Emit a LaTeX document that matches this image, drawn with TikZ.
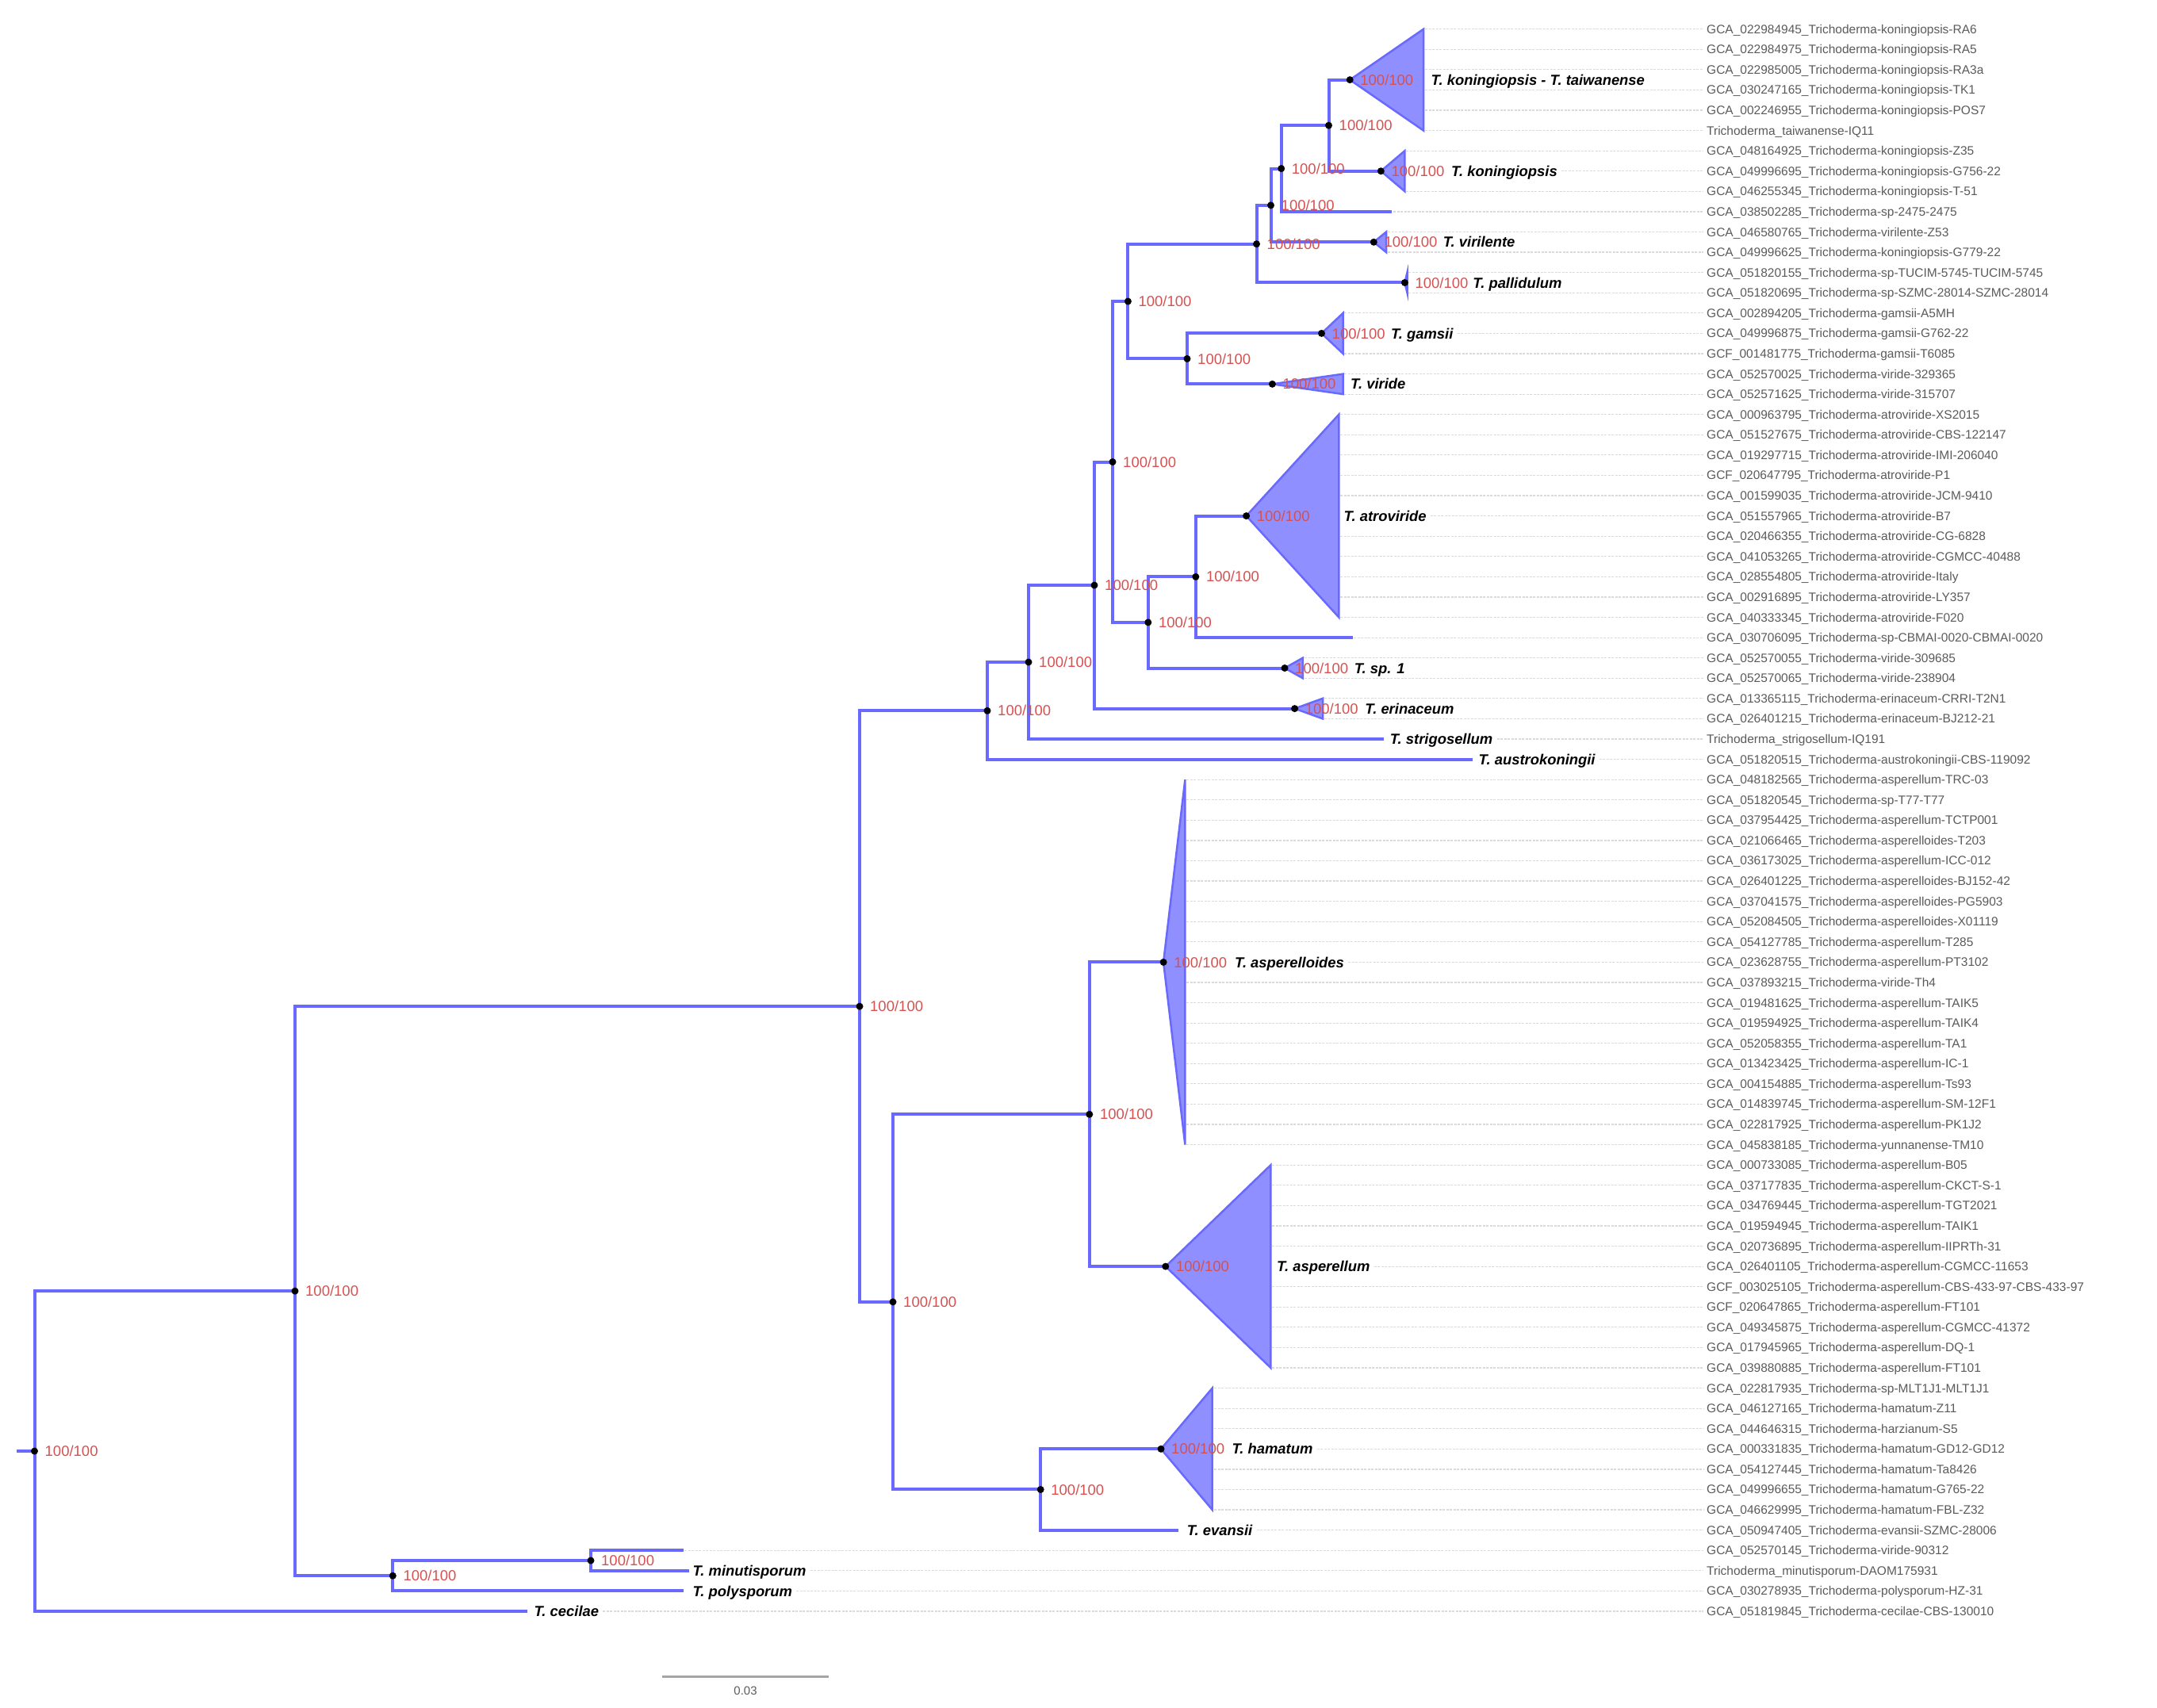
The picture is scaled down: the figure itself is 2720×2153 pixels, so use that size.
\documentclass[tikz,border=0pt]{standalone}
\usepackage{fontspec}
\setmainfont{Liberation Sans}
\definecolor{brc}{RGB}{105,105,255}
\definecolor{trif}{RGB}{143,143,255}
\definecolor{supc}{RGB}{214,80,80}
\definecolor{tipc}{RGB}{90,90,90}
\definecolor{leadc}{RGB}{218,218,218}
\definecolor{sclc}{RGB}{165,165,165}
\newcommand\treeelbow[3]{\draw[branch] (#2) -| (#1) |- (#3);}
\newcommand\cladetri[4]{\draw[tri] (#1) -- (#2,#3) -- (#2,#4) -- cycle;}
\newcommand\nodemark[1]{\node[dot] (d#1) at (#1) {}; \node[suplab] (s#1) at (#1) {100/100};}
\newcommand\leadrows[3]{\foreach \r in {#1,...,#2}{\draw[leader] (#3,{36.7+(\r-1)*25.58}) -- (r\r);}}
\begin{document}
\begin{tikzpicture}[x=1pt,y=-1pt,
  branch/.style={draw=brc, line width=4pt, line join=miter},
  tri/.style={fill=trif, draw=brc, line width=2.5pt, line join=miter},
  dot/.style={circle, fill=black, inner sep=0pt, minimum size=9pt},
  suplab/.style={anchor=base west, inner sep=0pt, xshift=13pt, yshift=-6.6pt, text=supc, font=\fontsize{18.5}{20}\selectfont},
  clab/.style={anchor=base west, inner sep=0pt, yshift=-6.6pt, font=\fontsize{18.4}{20}\selectfont\bfseries\itshape},
  tiplab/.style={anchor=base west, inner sep=0pt, yshift=-5.5pt, text=tipc, font=\fontsize{15.5}{18}\selectfont},
  leader/.style={draw=leadc, line width=1.2pt, dash pattern=on 3pt off 1.5pt}]
\useasboundingbox (0,0) rectangle (2720,2153);

% ---------- tip labels ----------
\foreach \t [count=\i] in {GCA\_022984945\_Trichoderma-koningiopsis-RA6,
GCA\_022984975\_Trichoderma-koningiopsis-RA5,
GCA\_022985005\_Trichoderma-koningiopsis-RA3a,
GCA\_030247165\_Trichoderma-koningiopsis-TK1,
GCA\_002246955\_Trichoderma-koningiopsis-POS7,
Trichoderma\_taiwanense-IQ11,
GCA\_048164925\_Trichoderma-koningiopsis-Z35,
GCA\_049996695\_Trichoderma-koningiopsis-G756-22,
GCA\_046255345\_Trichoderma-koningiopsis-T-51,
GCA\_038502285\_Trichoderma-sp-2475-2475,
GCA\_046580765\_Trichoderma-virilente-Z53,
GCA\_049996625\_Trichoderma-koningiopsis-G779-22,
GCA\_051820155\_Trichoderma-sp-TUCIM-5745-TUCIM-5745,
GCA\_051820695\_Trichoderma-sp-SZMC-28014-SZMC-28014,
GCA\_002894205\_Trichoderma-gamsii-A5MH,
GCA\_049996875\_Trichoderma-gamsii-G762-22,
GCF\_001481775\_Trichoderma-gamsii-T6085,
GCA\_052570025\_Trichoderma-viride-329365,
GCA\_052571625\_Trichoderma-viride-315707,
GCA\_000963795\_Trichoderma-atroviride-XS2015,
GCA\_051527675\_Trichoderma-atroviride-CBS-122147,
GCA\_019297715\_Trichoderma-atroviride-IMI-206040,
GCF\_020647795\_Trichoderma-atroviride-P1,
GCA\_001599035\_Trichoderma-atroviride-JCM-9410,
GCA\_051557965\_Trichoderma-atroviride-B7,
GCA\_020466355\_Trichoderma-atroviride-CG-6828,
GCA\_041053265\_Trichoderma-atroviride-CGMCC-40488,
GCA\_028554805\_Trichoderma-atroviride-Italy,
GCA\_002916895\_Trichoderma-atroviride-LY357,
GCA\_040333345\_Trichoderma-atroviride-F020,
GCA\_030706095\_Trichoderma-sp-CBMAI-0020-CBMAI-0020,
GCA\_052570055\_Trichoderma-viride-309685,
GCA\_052570065\_Trichoderma-viride-238904,
GCA\_013365115\_Trichoderma-erinaceum-CRRI-T2N1,
GCA\_026401215\_Trichoderma-erinaceum-BJ212-21,
Trichoderma\_strigosellum-IQ191,
GCA\_051820515\_Trichoderma-austrokoningii-CBS-119092,
GCA\_048182565\_Trichoderma-asperellum-TRC-03,
GCA\_051820545\_Trichoderma-sp-T77-T77,
GCA\_037954425\_Trichoderma-asperellum-TCTP001,
GCA\_021066465\_Trichoderma-asperelloides-T203,
GCA\_036173025\_Trichoderma-asperellum-ICC-012,
GCA\_026401225\_Trichoderma-asperelloides-BJ152-42,
GCA\_037041575\_Trichoderma-asperelloides-PG5903,
GCA\_052084505\_Trichoderma-asperelloides-X01119,
GCA\_054127785\_Trichoderma-asperellum-T285,
GCA\_023628755\_Trichoderma-asperellum-PT3102,
GCA\_037893215\_Trichoderma-viride-Th4,
GCA\_019481625\_Trichoderma-asperellum-TAIK5,
GCA\_019594925\_Trichoderma-asperellum-TAIK4,
GCA\_052058355\_Trichoderma-asperellum-TA1,
GCA\_013423425\_Trichoderma-asperellum-IC-1,
GCA\_004154885\_Trichoderma-asperellum-Ts93,
GCA\_014839745\_Trichoderma-asperellum-SM-12F1,
GCA\_022817925\_Trichoderma-asperellum-PK1J2,
GCA\_045838185\_Trichoderma-yunnanense-TM10,
GCA\_000733085\_Trichoderma-asperellum-B05,
GCA\_037177835\_Trichoderma-asperellum-CKCT-S-1,
GCA\_034769445\_Trichoderma-asperellum-TGT2021,
GCA\_019594945\_Trichoderma-asperellum-TAIK1,
GCA\_020736895\_Trichoderma-asperellum-IIPRTh-31,
GCA\_026401105\_Trichoderma-asperellum-CGMCC-11653,
GCF\_003025105\_Trichoderma-asperellum-CBS-433-97-CBS-433-97,
GCF\_020647865\_Trichoderma-asperellum-FT101,
GCA\_049345875\_Trichoderma-asperellum-CGMCC-41372,
GCA\_017945965\_Trichoderma-asperellum-DQ-1,
GCA\_039880885\_Trichoderma-asperellum-FT101,
GCA\_022817935\_Trichoderma-sp-MLT1J1-MLT1J1,
GCA\_046127165\_Trichoderma-hamatum-Z11,
GCA\_044646315\_Trichoderma-harzianum-S5,
GCA\_000331835\_Trichoderma-hamatum-GD12-GD12,
GCA\_054127445\_Trichoderma-hamatum-Ta8426,
GCA\_049996655\_Trichoderma-hamatum-G765-22,
GCA\_046629995\_Trichoderma-hamatum-FBL-Z32,
GCA\_050947405\_Trichoderma-evansii-SZMC-28006,
GCA\_052570145\_Trichoderma-viride-90312,
Trichoderma\_minutisporum-DAOM175931,
GCA\_030278935\_Trichoderma-polysporum-HZ-31,
GCA\_051819845\_Trichoderma-cecilae-CBS-130010}
{
  \node[tiplab] (n\i) at (2152,{36.7+(\i-1)*25.58}) {\t};
  \coordinate (r\i) at (2148,{36.7+(\i-1)*25.58});
}

% ---------- leader lines ----------
\leadrows{1}{6}{1797}
\leadrows{7}{7}{1773}
\leadrows{9}{9}{1773}
\leadrows{10}{10}{1757}
\leadrows{11}{12}{1750}
\leadrows{13}{14}{1776}
\leadrows{15}{15}{1695}
\leadrows{17}{19}{1695}
\leadrows{20}{24}{1690}
\leadrows{26}{30}{1690}
\leadrows{31}{31}{1707}
\leadrows{32}{33}{1645}
\leadrows{34}{35}{1670}
\leadrows{38}{46}{1496}
\leadrows{48}{56}{1496}
\leadrows{57}{61}{1604}
\leadrows{63}{67}{1604}
\leadrows{68}{70}{1531}
\leadrows{72}{74}{1531}
\leadrows{76}{76}{863}

% ---------- tree points ----------
\coordinate (rs) at (21,1830);
\coordinate (root) at (43.5,1830.0);
\coordinate (A) at (372,1628.15);
\coordinate (B) at (1084,1269.1);
\coordinate (C) at (495.3,1987.2);
\coordinate (D) at (745,1968.0);
\coordinate (E) at (1245,896.3);
\coordinate (F) at (1126,1641.85);
\coordinate (G) at (1297,835.0);
\coordinate (H) at (1380,738.05);
\coordinate (K) at (1403,582.5);
\coordinate (L) at (1422.4,380.05);
\coordinate (J) at (1447.8,784.9);
\coordinate (M) at (1507.8,727.35);
\coordinate (P) at (1584.5,307.7);
\coordinate (R) at (1497,452.4);
\coordinate (Q) at (1602.5,258.9);
\coordinate (S) at (1615.7,212.55);
\coordinate (T) at (1675.5,158.2);
\coordinate (V) at (1373.8,1405.25);
\coordinate (W) at (1312.2,1878.45);
% collapsed clade apexes
\coordinate (cU) at (1702.2,100.65);
\coordinate (cKON) at (1741.3,215.75);
\coordinate (cVIR) at (1732.3,305.3);
\coordinate (cPAL) at (1771.4,356.45);
\coordinate (cGAM) at (1666.5,420.4);
\coordinate (cVRD) at (1604.4,484.35);
\coordinate (cATR) at (1571.6,650.6);
\coordinate (cSP) at (1620,842.5);
\coordinate (cERI) at (1632.6,893.6);
\coordinate (cASD) at (1467.1,1213.4);
\coordinate (cASP) at (1469.8,1597.1);
\coordinate (cHAM) at (1464,1827.3);
% single tips
\coordinate (t10) at (1755,266.9);
\coordinate (t31) at (1705.5,804.1);
\coordinate (t36) at (1744.7,932.0);
\coordinate (t37) at (1857,957.6);
\coordinate (t75) at (1486.3,1929.6);
\coordinate (t76) at (861.5,1955.2);
\coordinate (t77) at (868.5,1980.8);
\coordinate (t78) at (861.5,2006.4);
\coordinate (t79) at (665,2031.9);

% ---------- branches ----------
\draw[branch] (rs) -- (root);
\treeelbow{root}{A}{t79}
\treeelbow{A}{B}{C}
\treeelbow{C}{D}{t78}
\treeelbow{D}{t76}{t77}
\treeelbow{B}{E}{F}
\treeelbow{E}{G}{t37}
\treeelbow{G}{H}{t36}
\treeelbow{H}{K}{cERI}
\treeelbow{K}{L}{J}
\treeelbow{L}{P}{R}
\treeelbow{P}{Q}{cPAL}
\treeelbow{Q}{S}{cVIR}
\treeelbow{S}{T}{t10}
\treeelbow{T}{cU}{cKON}
\treeelbow{R}{cGAM}{cVRD}
\treeelbow{J}{M}{cSP}
\treeelbow{M}{cATR}{t31}
\treeelbow{F}{V}{W}
\treeelbow{V}{cASD}{cASP}
\treeelbow{W}{cHAM}{t75}

% ---------- collapsed clades ----------
\cladetri{cU}{1795}{36.7}{164.6}
\cladetri{cKON}{1771.4}{190.2}{241.3}
\cladetri{cVIR}{1748}{292.5}{318.1}
\cladetri{cPAL}{1774.5}{343.7}{369.2}
\cladetri{cGAM}{1693.6}{394.8}{446.0}
\cladetri{cVRD}{1693.6}{471.6}{497.1}
\cladetri{cATR}{1688.3}{522.7}{778.5}
\cladetri{cSP}{1642.8}{829.7}{855.3}
\cladetri{cERI}{1668}{880.8}{906.4}
\cladetri{cASD}{1494.4}{983.2}{1443.6}
\cladetri{cASP}{1602.4}{1469.2}{1725.0}
\cladetri{cHAM}{1528.7}{1750.6}{1904.0}

% ---------- node dots and support values ----------
\nodemark{root}
\nodemark{A}
\nodemark{B}
\nodemark{C}
\nodemark{D}
\nodemark{E}
\nodemark{F}
\nodemark{G}
\nodemark{H}
\nodemark{K}
\nodemark{L}
\nodemark{J}
\nodemark{M}
\nodemark{P}
\nodemark{R}
\nodemark{Q}
\nodemark{S}
\nodemark{T}
\nodemark{V}
\nodemark{W}
\nodemark{cU}
\nodemark{cKON}
\nodemark{cVIR}
\nodemark{cPAL}
\nodemark{cGAM}
\nodemark{cVRD}
\nodemark{cATR}
\nodemark{cSP}
\nodemark{cERI}
\nodemark{cASD}
\nodemark{cASP}
\nodemark{cHAM}

% ---------- clade / taxon labels ----------
\node[clab] (lU) at (1804.5,100.65) {T. koningiopsis - T. taiwanense};
\node[clab] (lKON) at (1830,215.8) {T. koningiopsis};
\node[clab] (lVIR) at (1819.6,305.3) {T. virilente};
\node[clab] (lPAL) at (1857.2,356.45) {T. pallidulum};
\node[clab] (lGAM) at (1753.8,420.4) {T. gamsii};
\node[clab] (lVRD) at (1703,484.35) {T. viride};
\node[clab] (lATR) at (1694.5,650.6) {T. atroviride};
\node[clab] (lSP) at (1707.6,842.5) {T. sp. 1};
\node[clab] (lERI) at (1721.2,893.6) {T. erinaceum};
\node[clab] (l36) at (1752.6,932.0) {T. strigosellum};
\node[clab] (l37) at (1864.5,957.6) {T. austrokoningii};
\node[clab] (lASD) at (1556.9,1213.4) {T. asperelloides};
\node[clab] (lASP) at (1610,1597.1) {T. asperellum};
\node[clab] (lHAM) at (1553.3,1827.3) {T. hamatum};
\node[clab] (l75) at (1496.6,1929.6) {T. evansii};
\node[clab] (l77) at (873.4,1980.8) {T. minutisporum};
\node[clab] (l78) at (873.4,2006.4) {T. polysporum};
\node[clab] (l79) at (673.4,2031.9) {T. cecilae};

% leaders for rows that carry a label
\draw[leader] ([xshift=5pt]lKON.east |- r8) -- (r8);
\draw[leader] ([xshift=5pt]lGAM.east |- r16) -- (r16);
\draw[leader] ([xshift=5pt]lATR.east |- r25) -- (r25);
\draw[leader] ([xshift=5pt]l36.east |- r36) -- (r36);
\draw[leader] ([xshift=5pt]l37.east |- r37) -- (r37);
\draw[leader] ([xshift=5pt]lASD.east |- r47) -- (r47);
\draw[leader] ([xshift=5pt]lASP.east |- r62) -- (r62);
\draw[leader] ([xshift=5pt]lHAM.east |- r71) -- (r71);
\draw[leader] ([xshift=5pt]l75.east |- r75) -- (r75);
\draw[leader] ([xshift=5pt]l77.east |- r77) -- (r77);
\draw[leader] ([xshift=5pt]l78.east |- r78) -- (r78);
\draw[leader] ([xshift=5pt]l79.east |- r79) -- (r79);

% ---------- scale bar ----------
\coordinate (sb1) at (835,2114);
\coordinate (sb2) at (1045,2114);
\draw[draw=sclc, line width=3pt] (sb1) -- (sb2);
\node[inner sep=0pt, text=tipc, font=\fontsize{15}{17}\selectfont] (sbt) at (940,2132) {0.03};
\end{tikzpicture}
\end{document}
